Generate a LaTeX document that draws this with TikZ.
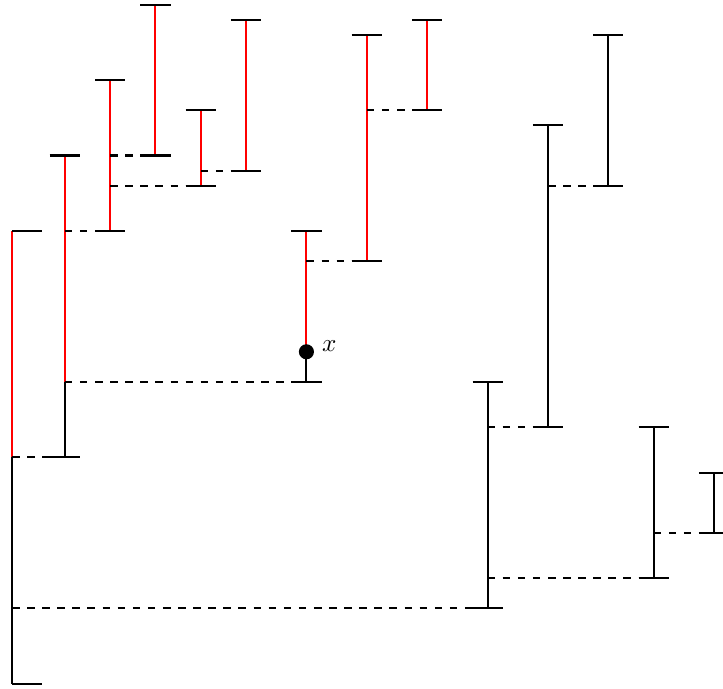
\documentclass[tikz,border=0pt]{standalone}
\begin{document}
\begin{tikzpicture}[x=6pt,y=6pt,line width=0.8pt,
  redseg/.style={red},
  blackseg/.style={black},
  tickmark/.style={black},
  link/.style={black,dashed},
  dotmark/.style={black}]
\clip (-0.795,-0.331) rectangle (47.09,45.30);
% segment end points
\coordinate (a0) at (0,0);    \coordinate (a1) at (0,15);   \coordinate (a2) at (0,30);
\coordinate (b0) at (3.5,15); \coordinate (b1) at (3.5,20); \coordinate (b2) at (3.5,35);
\coordinate (c0) at (6.5,30); \coordinate (c2) at (6.5,40);
\coordinate (d0) at (9.5,35); \coordinate (d2) at (9.5,45);
\coordinate (e0) at (12.5,33); \coordinate (e2) at (12.5,38);
\coordinate (f0) at (15.5,34); \coordinate (f2) at (15.5,44);
\coordinate (g0) at (19.5,20); \coordinate (gx) at (19.5,22); \coordinate (g2) at (19.5,30);
\coordinate (h0) at (23.5,28); \coordinate (h2) at (23.5,43);
\coordinate (i0) at (27.5,38); \coordinate (i2) at (27.5,44);
\coordinate (j0) at (31.5,5);  \coordinate (j2) at (31.5,20);
\coordinate (k0) at (35.5,17); \coordinate (k2) at (35.5,37);
\coordinate (l0) at (39.5,33); \coordinate (l2) at (39.5,43);
\coordinate (m0) at (42.5,7);  \coordinate (m2) at (42.5,17);
\coordinate (n0) at (46.5,10); \coordinate (n2) at (46.5,14);
% vertical segments
\draw[blackseg] (a0) -- (a1);
\draw[redseg] (a1) -- (a2);
\draw[blackseg] (b0) -- (b1);
\draw[redseg] (b1) -- (b2);
\draw[redseg] (c0) -- (c2);
\draw[redseg] (d0) -- (d2);
\draw[redseg] (e0) -- (e2);
\draw[redseg] (f0) -- (f2);
\draw[blackseg] (g0) -- (gx);
\draw[redseg] (gx) -- (g2);
\draw[redseg] (h0) -- (h2);
\draw[redseg] (i0) -- (i2);
\draw[blackseg] (j0) -- (j2);
\draw[blackseg] (k0) -- (k2);
\draw[blackseg] (l0) -- (l2);
\draw[blackseg] (m0) -- (m2);
\draw[blackseg] (n0) -- (n2);
% dashed links
\draw[link] (a0 |- b0) -- (b0);
\draw[link] (b0 |- g0) -- (g0);
\draw[link] (b0 |- c0) -- (c0);
\draw[link] (c0 |- d0) -- (d0);
\draw[link] (c0 |- e0) -- (e0);
\draw[link] (e0 |- f0) -- (f0);
\draw[link] (g0 |- h0) -- (h0);
\draw[link] (h0 |- i0) -- (i0);
\draw[link] (a0 |- j0) -- (j0);
\draw[link] (j0 |- k0) -- (k0);
\draw[link] (k0 |- l0) -- (l0);
\draw[link] (j0 |- m0) -- (m0);
\draw[link] (m0 |- n0) -- (n0);
% ticks
\draw[tickmark] (a0) -- ++(2,0);
\draw[tickmark] (a2) -- ++(2,0);
\foreach \p in {b0,b2,c0,c2,d0,d2,e0,e2,f0,f2,g0,g2,h0,h2,i0,i2,j0,j2,k0,k2,l0,l2,m0,m2,n0,n2}
  \draw[tickmark] ([xshift=-6pt]\p) -- ([xshift=6pt]\p);
% marked point
\fill[dotmark] (gx) circle (3pt);
\node[anchor=base west,xshift=2.5pt,inner sep=3.33pt] (xlabel) at (gx) {$x$};
\end{tikzpicture}
\end{document}
